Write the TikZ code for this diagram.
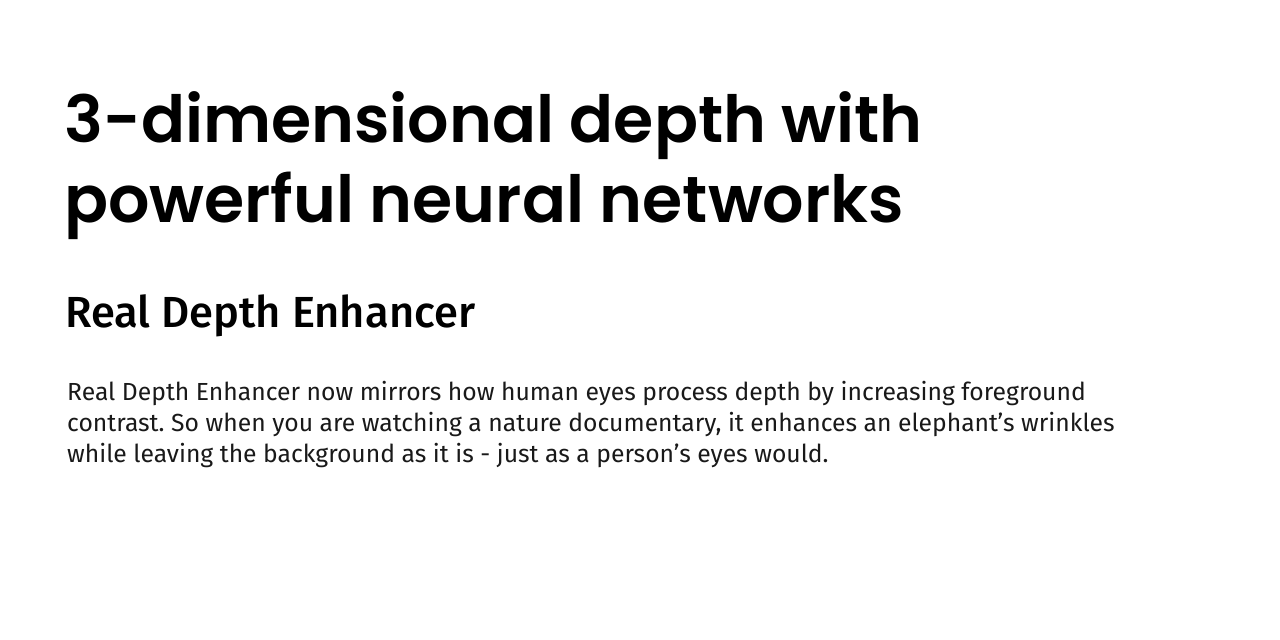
\documentclass[tikz,border=0pt]{standalone}
\usepackage{fontspec}
\newfontfamily\titlefont{Poppins}[BoldFont={Poppins SemiBold}]
\newfontfamily\bodyfont{Fira Sans}[BoldFont={Fira Sans Medium}]
\frenchspacing

\begin{document}
\begin{tikzpicture}[x=1pt, y=-1pt,
  line/.style={anchor=base west, inner sep=0pt},
  headline/.style={line, font=\titlefont\bfseries\fontsize{65}{65}\selectfont},
  subhead/.style={line, font=\bodyfont\bfseries\fontsize{43.5}{43.5}\selectfont},
  copy/.style={line, font=\bodyfont\fontsize{24.7}{24.7}\selectfont, text=black!90}]

  \useasboundingbox[fill=white] (0,0) rectangle (1280,640);

  % headline
  \node[headline] (title1) at (64,142) {3-dimensional depth with};
  \node[headline] (title2) at (64,222) {powerful neural networks};

  \node[subhead] (subtitle) at (65,327) {Real Depth Enhancer};

  % body text
  \node[copy] (body1) at (67,400) {Real Depth Enhancer now mirrors how human eyes process depth by increasing foreground};
  \node[copy] (body2) at (67,431) {contrast. So when you are watching a nature documentary, it enhances an elephant’s wrinkles};
  \node[copy] (body3) at (67,462) {while leaving the background as it is - just as a person’s eyes would.};

\end{tikzpicture}
\end{document}
